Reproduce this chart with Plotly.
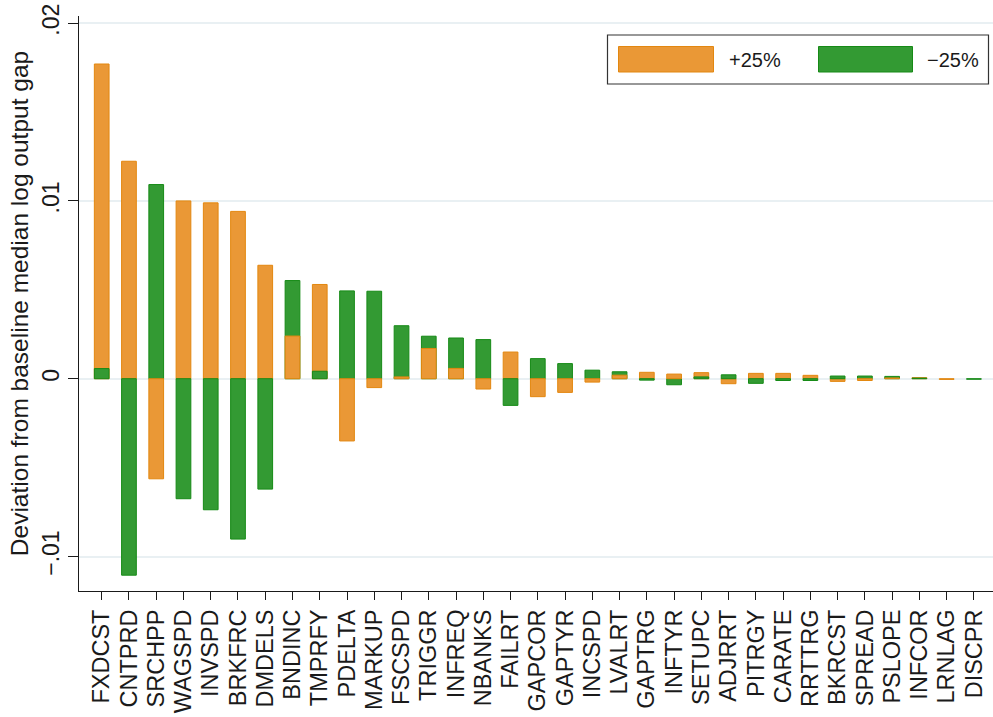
import plotly.graph_objects as go

categories = ["FXDCST", "CNTPRD", "SRCHPP", "WAGSPD", "INVSPD", "BRKFRC", "DMDELS",
              "BNDINC", "TMPRFY", "PDELTA", "MARKUP", "FSCSPD", "TRIGGR", "INFREQ",
              "NBANKS", "FAILRT", "GAPCOR", "GAPTYR", "INCSPD", "LVALRT", "GAPTRG",
              "INFTYR", "SETUPC", "ADJRRT", "PITRGY", "CARATE", "RRTTRG", "BKRCST",
              "SPREAD", "PSLOPE", "INFCOR", "LRNLAG", "DISCPR"]

plus25 = [0.0177, 0.01223, -0.00563, 0.0100, 0.00989, 0.00941, 0.00638,
          0.0024, 0.0053, -0.0035, -0.0005, 0.0001, 0.0017, 0.00058,
          -0.00058, 0.0015, -0.00101, -0.00077, -0.00019, 0.0002, 0.00036,
          0.00026, 0.00034, -0.00028, 0.0003, 0.0003, 0.00019, -0.00015,
          -0.0001, 0.00004, 0.00006, -0.00004, 0.0]

minus25 = [0.00057, -0.01105, 0.01092, -0.00675, -0.00737, -0.00902, -0.00621,
           0.00552, 0.00042, 0.00494, 0.00492, 0.00298, 0.00239, 0.00229,
           0.0022, -0.0015, 0.00113, 0.00085, 0.00048, 0.00039, -0.00008,
           -0.00034, 0.0001, 0.00022, -0.00026, -0.0001, -0.0001, 0.00015,
           0.00015, 0.00013, 0.00003, 0.0, -0.00003]

ytick_vals = [-0.01, 0, 0.01, 0.02]
ytick_text = ["\u2212.01", "0", ".01", ".02"]

ORANGE_FILL = "#ea9836"
ORANGE_LINE = "#e3870f"
GREEN_FILL = "#339a33"
GREEN_LINE = "#168a16"
FONT = "Liberation Sans, Arial, sans-serif"


def pick(vals, others, front, is_plus):
    out = []
    for v, o in zip(vals, others):
        if v == 0:
            out.append(None)
        elif front:
            out.append(v if abs(v) < abs(o) or (abs(v) == abs(o) and not is_plus) else None)
        else:
            out.append(v if abs(v) > abs(o) or (abs(v) == abs(o) and is_plus) else None)
    return out


o_back = pick(plus25, minus25, False, True)
g_back = pick(minus25, plus25, False, False)
o_front = pick(plus25, minus25, True, True)
g_front = pick(minus25, plus25, True, False)

W = 0.54
fig = go.Figure()
for vals, fill, line, name in [(o_back, ORANGE_FILL, ORANGE_LINE, "+25%"),
                               (g_back, GREEN_FILL, GREEN_LINE, "\u221225%"),
                               (o_front, ORANGE_FILL, ORANGE_LINE, "+25%"),
                               (g_front, GREEN_FILL, GREEN_LINE, "\u221225%")]:
    fig.add_trace(go.Bar(x=categories, y=vals, width=W, name=name,
                         marker=dict(color=fill, line=dict(color=line, width=1)),
                         showlegend=False))

# manual legend (Stata style wide swatches)
L, T, PW, PH = 79, 16, 914, 575
def px(x):
    return (x - L) / PW
def py(y):
    return (T + PH - y) / PH

shapes = [
    dict(type="rect", xref="paper", yref="paper", x0=px(607.5), x1=px(988.5),
         y0=py(84), y1=py(35), line=dict(color="#333333", width=1.2), fillcolor="white", layer="above"),
    dict(type="rect", xref="paper", yref="paper", x0=px(618.5), x1=px(713.5),
         y0=py(72), y1=py(46.5), line=dict(color=ORANGE_LINE, width=1), fillcolor=ORANGE_FILL, layer="above"),
    dict(type="rect", xref="paper", yref="paper", x0=px(818.5), x1=px(912.5),
         y0=py(72), y1=py(46.5), line=dict(color=GREEN_LINE, width=1), fillcolor=GREEN_FILL, layer="above"),
]
annotations = [
    dict(xref="paper", yref="paper", x=px(727), y=py(60), text="+25%", showarrow=False,
         xanchor="left", yanchor="middle", font=dict(size=20, color="#1a1a1a", family=FONT)),
    dict(xref="paper", yref="paper", x=px(925), y=py(60), text="\u221225%", showarrow=False,
         xanchor="left", yanchor="middle", font=dict(size=20, color="#1a1a1a", family=FONT)),
]

fig.update_layout(
    width=993, height=717,
    margin=dict(l=L, r=993 - L - PW, t=T, b=717 - T - PH),
    barmode="overlay",
    paper_bgcolor="white", plot_bgcolor="white",
    font=dict(family=FONT, size=20, color="#1a1a1a"),
    showlegend=False,
    shapes=shapes, annotations=annotations,
    xaxis=dict(
        type="category", range=[-0.833, 32.70],
        tickmode="linear", tick0=0, dtick=1,
        showline=True, linecolor="#1a1a1a", linewidth=1.3,
        ticks="outside", ticklen=8, tickcolor="#1a1a1a", tickwidth=1.3,
        tickangle=-90, tickfont=dict(size=23.5, family=FONT, color="#1a1a1a"),
        showgrid=False, zeroline=False, automargin=False,
    ),
    yaxis=dict(
        range=[-0.01194, 0.0204],
        tickvals=ytick_vals, ticktext=ytick_text,
        showline=True, linecolor="#1a1a1a", linewidth=1.3,
        ticks="outside", ticklen=10, tickcolor="#1a1a1a", tickwidth=1.3,
        tickangle=-90, tickfont=dict(size=23, family=FONT, color="#1a1a1a"),
        showgrid=True, gridcolor="#e9f0f3", gridwidth=2,
        zeroline=False, automargin=False,
        title=dict(text="Deviation from baseline median log output gap",
                   font=dict(size=24.5, family=FONT, color="#1a1a1a"), standoff=2),
    ),
)

fig.write_html("out.html", config={"displayModeBar": False},
               post_script="document.body.style.margin='0';document.body.style.padding='0';")
